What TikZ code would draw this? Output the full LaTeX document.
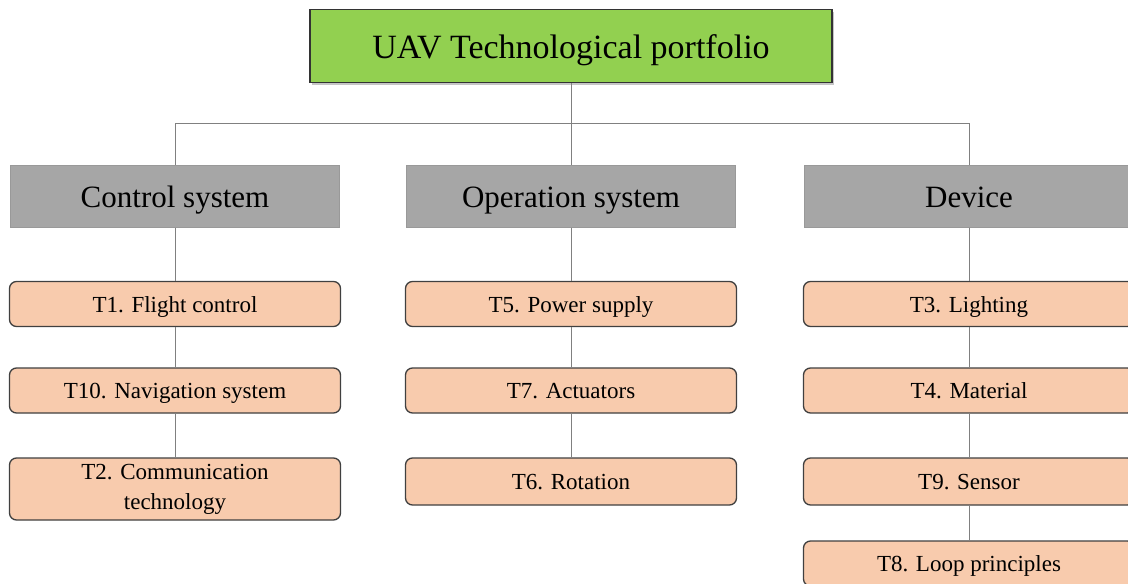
\documentclass[tikz,border=0pt]{standalone}
\usepackage{fontspec}
\setmainfont{Liberation Serif}
\usetikzlibrary{shadows}

\definecolor{rootgreen}{HTML}{92D050}
\definecolor{groupgray}{HTML}{A6A6A6}
\definecolor{techorange}{HTML}{F8CBAD}

\begin{document}
\begin{tikzpicture}[x=1pt,y=-1pt,
    rootbox/.style={draw=black!80, line width=1.3pt, fill=rootgreen, minimum width=522pt, minimum height=73pt,
        font=\fontsize{34}{40}\selectfont, text height=28pt, text depth=4pt,
        drop shadow={shadow xshift=2pt, shadow yshift=-2pt, opacity=0.45}},
    groupbox/.style={draw=black!40, line width=1pt, fill=groupgray, minimum width=329pt, minimum height=62pt,
        font=\fontsize{31}{34}\selectfont, text height=26pt, text depth=3.4pt},
    techbox/.style={draw=black!75, line width=1.3pt, fill=techorange, rounded corners=7pt, minimum width=331pt,
        minimum height=45pt, align=center, font=\fontsize{23}{30}\selectfont, text height=19pt, text depth=2.2pt},
    link/.style={draw=black!50, line width=1pt}]
    \clip (0,0) rectangle (1128,584);
    \fill [white] (0,0) rectangle (1128,584);

    % portfolio and the three groups
    \node [rootbox] (root) at (571,46) {UAV Technological portfolio};
    \node [groupbox] (ctrl) at (175,196) {Control system};
    \node [groupbox] (oper) at (571,196) {Operation system};
    \node [groupbox] (dev) at (969,196) {Device};

    % technologies
    \node [techbox] (t1) at (175,304) {T1. Flight control};
    \node [techbox] (t10) at (175,390.5) {T10. Navigation system};
    \node [techbox, minimum height=62pt, text height=, text depth=] (t2) at (175,489) {T2. Communication\\technology};

    \node [techbox] (t5) at (571,304) {T5. Power supply};
    \node [techbox] (t7) at (571,390.5) {T7. Actuators};
    \node [techbox, minimum height=47pt] (t6) at (571,481.5) {T6. Rotation};

    \node [techbox] (t3) at (969,304) {T3. Lighting};
    \node [techbox] (t4) at (969,390.5) {T4. Material};
    \node [techbox, minimum height=47pt] (t9) at (969,481.5) {T9. Sensor};
    \node [techbox] (t8) at (969,563.5) {T8. Loop principles};

    % connectors
    \draw [link] (root) -- (oper);
    \draw [link] (ctrl.north) -- ++(0,-41) -| (dev.north);
    \draw [link] (ctrl) -- (t1) -- (t10) -- (t2);
    \draw [link] (oper) -- (t5) -- (t7) -- (t6);
    \draw [link] (dev) -- (t3) -- (t4) -- (t9) -- (t8);
\end{tikzpicture}
\end{document}
